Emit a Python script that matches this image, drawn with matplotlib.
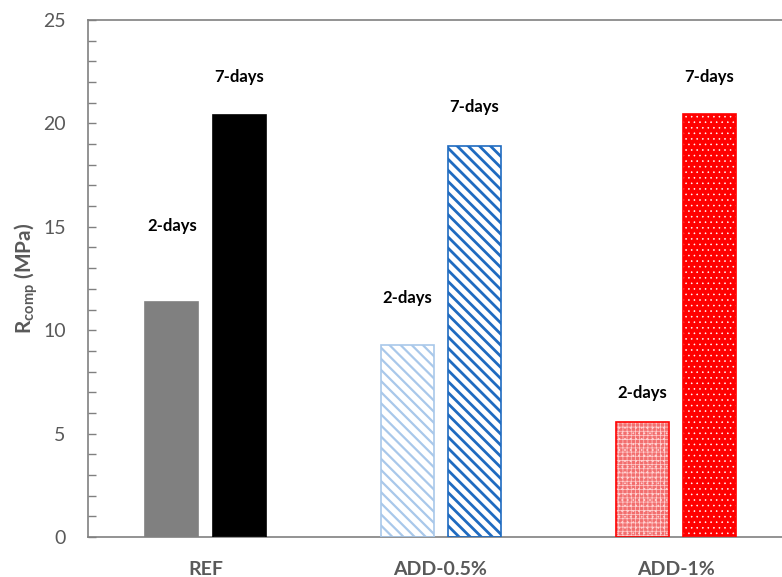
import numpy as np
import matplotlib
matplotlib.use("Agg")
import matplotlib.pyplot as plt
from matplotlib.ticker import MultipleLocator

plt.rcParams['font.family'] = ['Lato', 'DejaVu Sans']
plt.rcParams['mathtext.fontset'] = 'custom'
plt.rcParams['mathtext.rm'] = 'Lato:bold'

groups = ["REF", "ADD-0.5%", "ADD-1%"]
ages = ["2-days", "7-days"]
r_2days = [11.35, 9.28, 5.56]
r_7days = [20.4, 18.9, 20.45]

# where the "n-days" labels sit (data units)
lab_2days = [15.04, 11.56, 6.96]
lab_7days = [22.24, 20.79, 22.24]

# fill, hatch colour, hatch, hatch lw, outline
sty_2days = [("#808080", "#808080", None, 1.0, "#808080"),
             ("white", "#A9C8EA", "\\\\\\", 1.6, "#A9C8EA"),
             ("#F26E6E", "#FFD0D0", "++++...", 0.5, "#FF0000")]
sty_7days = [("black", "black", None, 1.0, "black"),
             ("white", "#1F6BC0", "\\\\\\", 2.0, "#1F6BC0"),
             ("#FF0000", "white", "...", 0.4, "#FF0000")]

fig = plt.figure(figsize=(7.82, 5.77), dpi=100)
ax = fig.add_axes([88/782, 40/577, 694/782, 517/577])

x = np.arange(len(groups))
w = 0.2255
off = 0.1426

for vals, labs, stys, dx, age in [(r_2days, lab_2days, sty_2days, -off, ages[0]),
                                   (r_7days, lab_7days, sty_7days, off, ages[1])]:
    for i in range(len(groups)):
        fc, hc, h, hlw, ec = stys[i]
        with plt.rc_context({'hatch.linewidth': hlw}):
            ax.bar(x[i] + dx, vals[i], w, color=fc, edgecolor=hc, hatch=h, linewidth=0, zorder=2)
        ax.bar(x[i] + dx, vals[i], w, fill=False, edgecolor=ec, linewidth=1.2, zorder=3)
        ax.text(x[i] + dx, labs[i], age, ha='center', va='center',
                fontsize=12, fontweight='bold', color='black')

ax.set_xlim(-0.5, 2.453)
ax.set_ylim(0, 25)
ax.set_xticks(x)
ax.set_xticklabels(groups, fontsize=14, fontweight='bold', color='#595959')
ax.tick_params(axis='x', length=0, pad=17)

ax.yaxis.set_major_locator(MultipleLocator(5))
ax.yaxis.set_minor_locator(MultipleLocator(1))
ax.tick_params(axis='y', which='both', direction='in', length=6, width=1,
               color='#808080', labelsize=14, labelcolor='#595959', pad=16)

for s in ['left', 'bottom', 'top']:
    ax.spines[s].set_color('#808080')
    ax.spines[s].set_linewidth(1.2)
ax.spines['right'].set_visible(False)

ax.set_ylabel(r'R$_{\mathrm{comp}}$ (MPa)', fontsize=15, fontweight='bold',
              color='#595959', labelpad=2)

fig.savefig("out.png", dpi=100)
